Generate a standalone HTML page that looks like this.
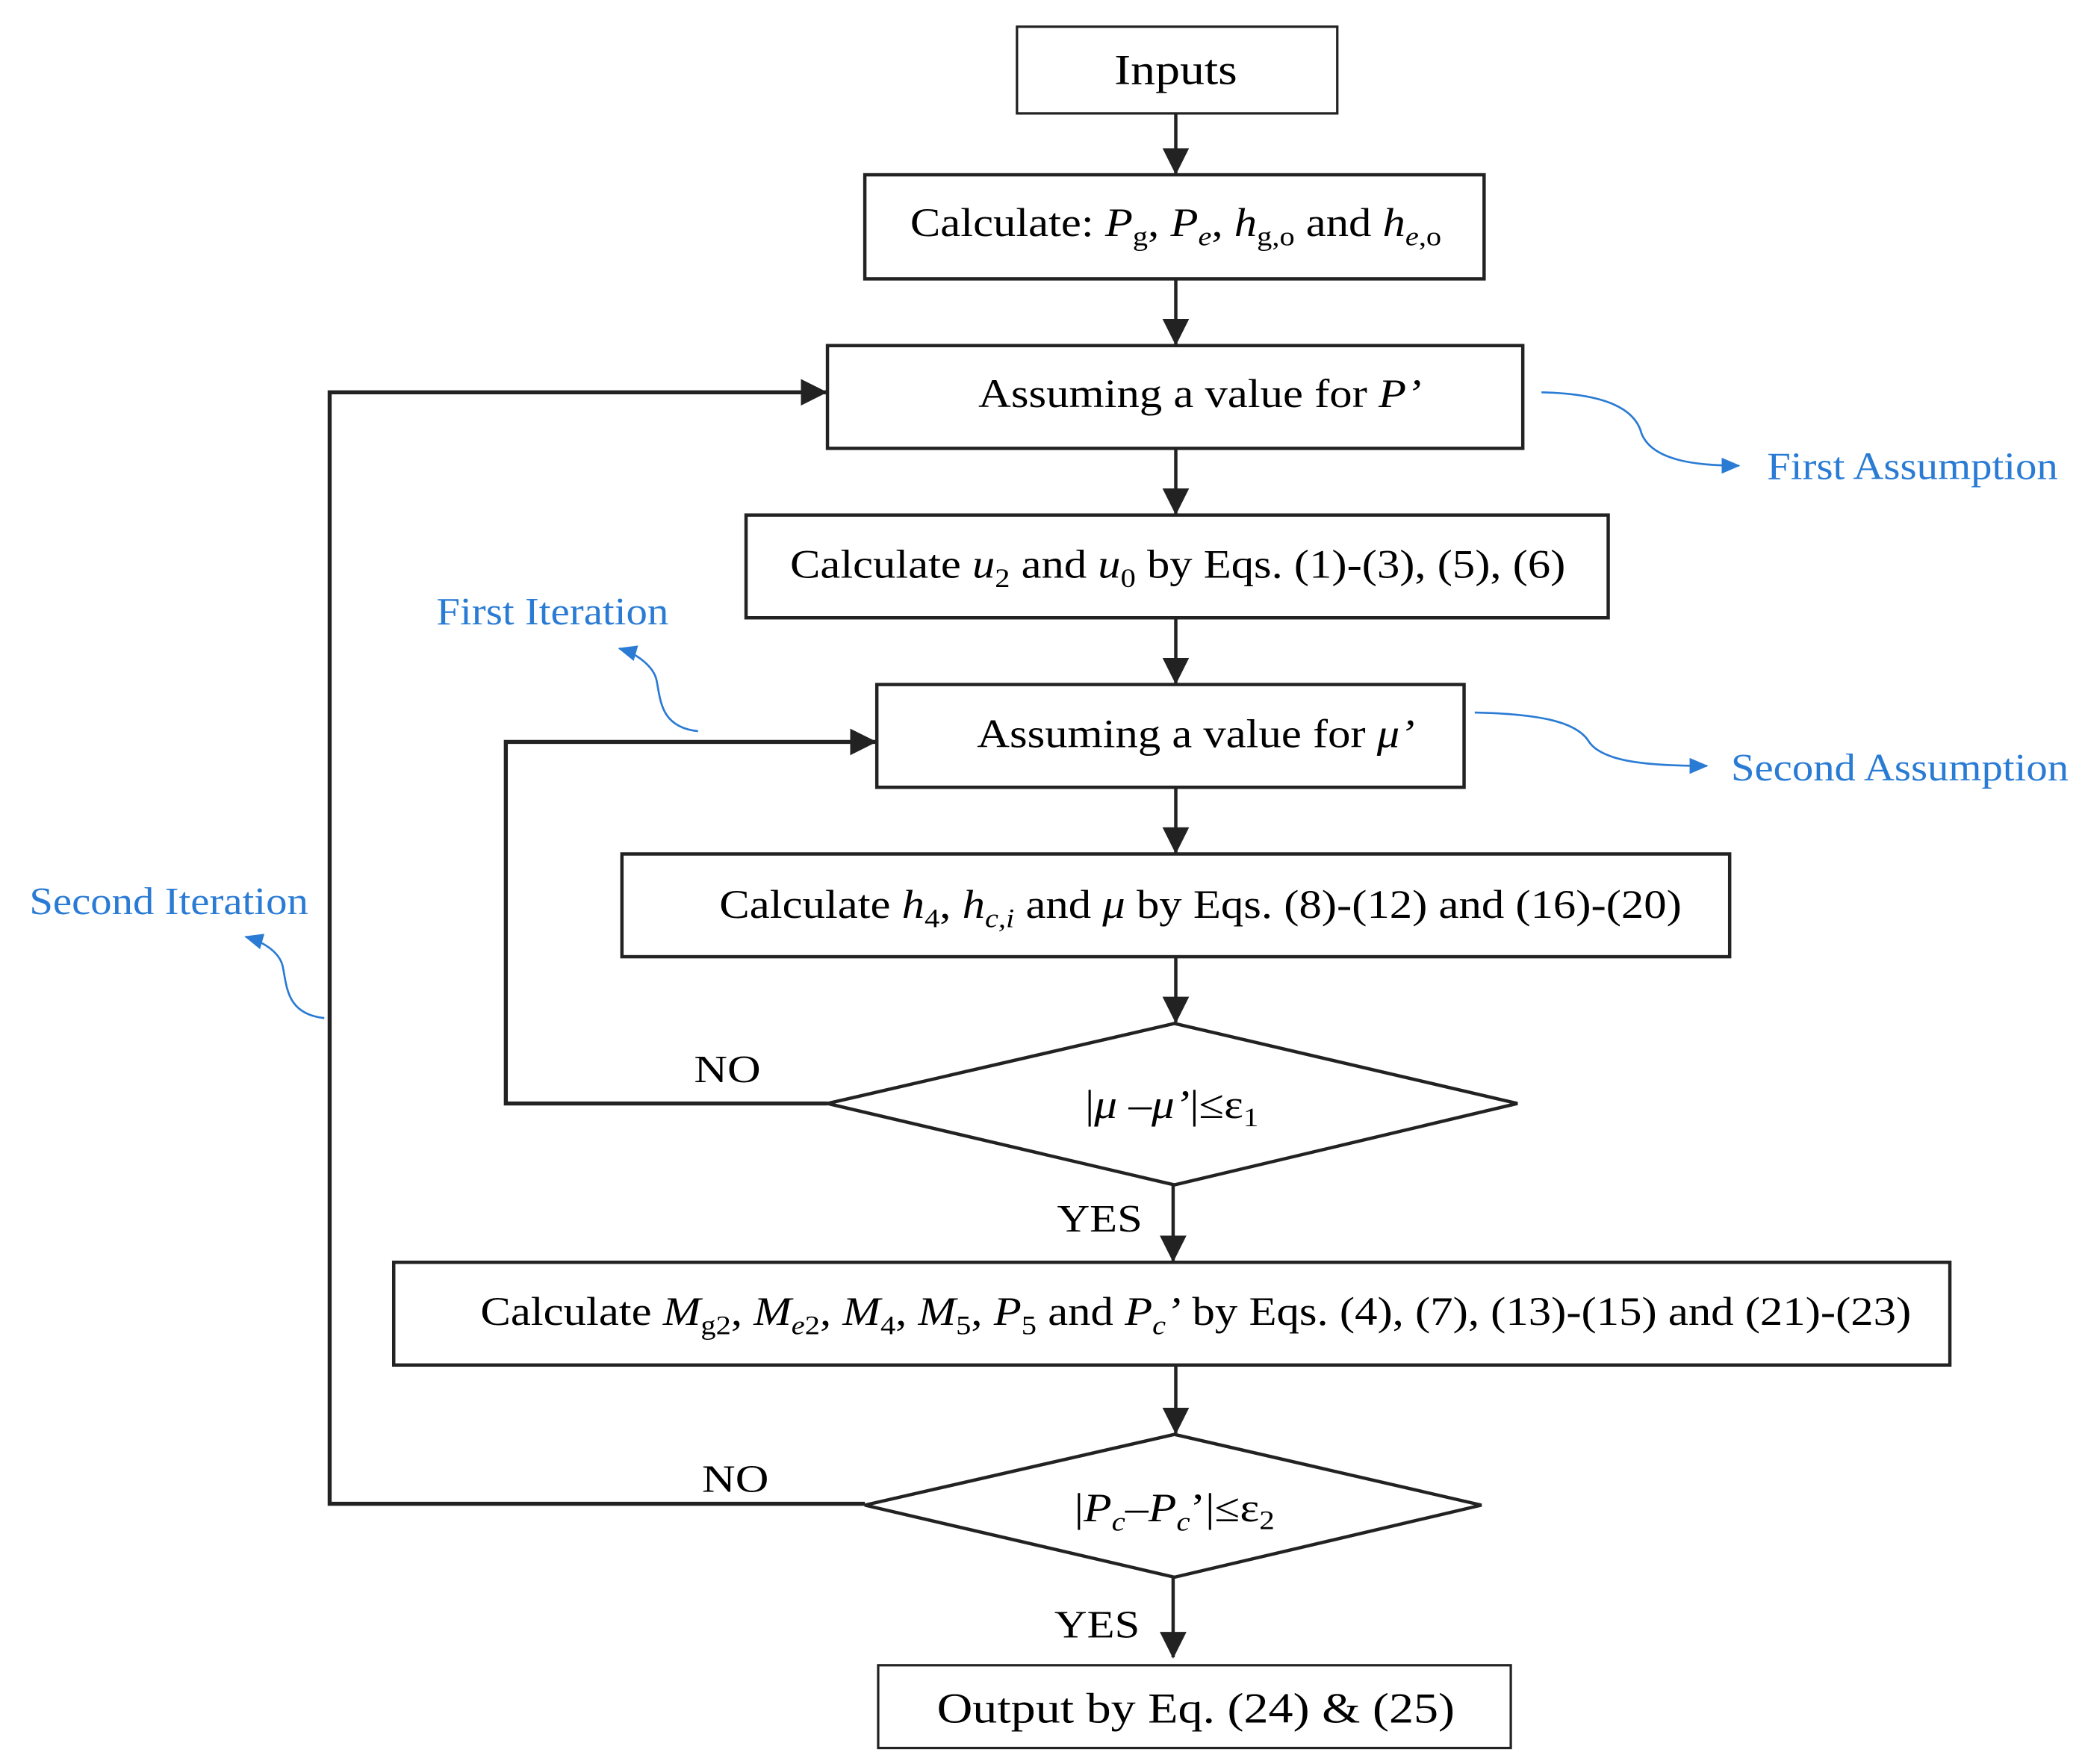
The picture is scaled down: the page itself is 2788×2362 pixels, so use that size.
<!DOCTYPE html>
<html><head><meta charset="utf-8"><style>
html,body{margin:0;padding:0;background:#fff;}
svg{display:block;}
text{font-family:"Liberation Serif",serif;fill:#000;}
.b{fill:#2a7bd4;}
</style></head><body>
<svg width="2788" height="2362" viewBox="0 0 1560 1322" preserveAspectRatio="none" xmlns="http://www.w3.org/2000/svg">
<defs>
<marker id="ab" markerWidth="20" markerHeight="20" refX="19" refY="10" orient="auto" markerUnits="userSpaceOnUse"><path d="M0,0 L20,10 L0,20 z" fill="#222"/></marker>
<marker id="bl" markerWidth="14" markerHeight="14" refX="13" refY="7" orient="auto" markerUnits="userSpaceOnUse"><path d="M0,1 L14,7 L0,13 z" fill="#2a7bd4"/></marker>
</defs>
<g fill="none" stroke="#222" stroke-width="2.5">
<rect x="762" y="20" width="240" height="65" stroke-width="1.8"/>
<rect x="648" y="131" width="464" height="78"/>
<rect x="620" y="259" width="521" height="77"/>
<rect x="559" y="386" width="646" height="77"/>
<rect x="657" y="513" width="440" height="77"/>
<rect x="466" y="640" width="830" height="77"/>
<polygon points="880,767 1137,827 880,888 620,827"/>
<rect x="295" y="946" width="1166" height="77"/>
<polygon points="880,1075 1110,1128 880,1182 648,1128"/>
<rect x="658" y="1248" width="474" height="62" stroke-width="1.8"/>
</g>
<g stroke="#222" stroke-width="2.5" fill="none">
<line x1="881" y1="85" x2="881" y2="130" marker-end="url(#ab)"/>
<line x1="881" y1="209" x2="881" y2="258" marker-end="url(#ab)"/>
<line x1="881" y1="336" x2="881" y2="385" marker-end="url(#ab)"/>
<line x1="881" y1="463" x2="881" y2="512" marker-end="url(#ab)"/>
<line x1="881" y1="590" x2="881" y2="639" marker-end="url(#ab)"/>
<line x1="881" y1="717" x2="881" y2="766" marker-end="url(#ab)"/>
<line x1="879" y1="888" x2="879" y2="945" marker-end="url(#ab)"/>
<line x1="881" y1="1023" x2="881" y2="1074" marker-end="url(#ab)"/>
<line x1="879" y1="1182" x2="879" y2="1242" marker-end="url(#ab)"/>
<polyline points="620,827 379,827 379,556 656,556" stroke-width="3" marker-end="url(#ab)"/>
<polyline points="648,1127 247,1127 247,294 619,294" stroke-width="3" marker-end="url(#ab)"/>
</g>
<g stroke="#2a7bd4" stroke-width="1.5" fill="none">
<path d="M1155,294 C1200,295 1225,305 1230,325 C1238,345 1270,349 1303,349" marker-end="url(#bl)"/>
<path d="M1105,534 C1150,535 1180,540 1190,555 C1200,572 1240,574 1279,574" marker-end="url(#bl)"/>
<path d="M523,548 C495,545 495,525 492,510 C490,500 478,490 464,486" marker-end="url(#bl)"/>
<path d="M243,763 C215,760 215,740 212,725 C210,714 198,706 184,702" marker-end="url(#bl)"/>
</g>
<text x="835" y="63" font-size="32" textLength="92" lengthAdjust="spacingAndGlyphs">Inputs</text>
<text x="682" y="177" font-size="30" textLength="398" lengthAdjust="spacingAndGlyphs">Calculate: <tspan font-style="italic">P</tspan><tspan font-size="20" dy="7">g</tspan><tspan dy="-7">, </tspan><tspan font-style="italic">P</tspan><tspan font-size="20" dy="7" font-style="italic">e</tspan><tspan dy="-7">, </tspan><tspan font-style="italic">h</tspan><tspan font-size="20" dy="7">g,o</tspan><tspan dy="-7"> and </tspan><tspan font-style="italic">h</tspan><tspan font-size="20" dy="7"><tspan font-style="italic">e</tspan>,o</tspan></text>
<text x="733" y="305" font-size="30" textLength="332" lengthAdjust="spacingAndGlyphs">Assuming a value for <tspan font-style="italic">P’</tspan></text>
<text x="592" y="433" font-size="30" textLength="581" lengthAdjust="spacingAndGlyphs">Calculate <tspan font-style="italic">u</tspan><tspan font-size="20" dy="7">2</tspan><tspan dy="-7"> and </tspan><tspan font-style="italic">u</tspan><tspan font-size="20" dy="7">0</tspan><tspan dy="-7"> by Eqs. (1)-(3), (5), (6)</tspan></text>
<text x="732" y="560" font-size="30" textLength="328" lengthAdjust="spacingAndGlyphs">Assuming a value for <tspan font-style="italic">μ’</tspan></text>
<text x="539" y="688" font-size="30" textLength="721" lengthAdjust="spacingAndGlyphs">Calculate <tspan font-style="italic">h</tspan><tspan font-size="20" dy="7">4</tspan><tspan dy="-7">, </tspan><tspan font-style="italic">h</tspan><tspan font-size="20" dy="7" font-style="italic">c,i</tspan><tspan dy="-7"> and </tspan><tspan font-style="italic">μ</tspan> by Eqs. (8)-(12) and (16)-(20)</text>
<text x="813" y="838" font-size="30" textLength="130" lengthAdjust="spacingAndGlyphs">|<tspan font-style="italic">μ</tspan> –<tspan font-style="italic">μ’</tspan>|≤ε<tspan font-size="20" dy="6">1</tspan></text>
<text x="360" y="993" font-size="30" textLength="1072" lengthAdjust="spacingAndGlyphs">Calculate <tspan font-style="italic">M</tspan><tspan font-size="20" dy="7">g2</tspan><tspan dy="-7">, </tspan><tspan font-style="italic">M</tspan><tspan font-size="20" dy="7" font-style="italic">e</tspan><tspan font-size="20">2</tspan><tspan dy="-7">, </tspan><tspan font-style="italic">M</tspan><tspan font-size="20" dy="7">4</tspan><tspan dy="-7">, </tspan><tspan font-style="italic">M</tspan><tspan font-size="20" dy="7">5</tspan><tspan dy="-7">, </tspan><tspan font-style="italic">P</tspan><tspan font-size="20" dy="7">5</tspan><tspan dy="-7"> and </tspan><tspan font-style="italic">P</tspan><tspan font-size="20" dy="7" font-style="italic">c</tspan><tspan dy="-7" font-style="italic">’</tspan> by Eqs. (4), (7), (13)-(15) and (21)-(23)</text>
<text x="805" y="1140" font-size="30" textLength="150" lengthAdjust="spacingAndGlyphs">|<tspan font-style="italic">P</tspan><tspan font-size="20" dy="7" font-style="italic">c</tspan><tspan dy="-7">–</tspan><tspan font-style="italic">P</tspan><tspan font-size="20" dy="7" font-style="italic">c</tspan><tspan dy="-7">’|≤ε</tspan><tspan font-size="20" dy="6">2</tspan></text>
<text x="702" y="1291" font-size="32" textLength="388" lengthAdjust="spacingAndGlyphs">Output by Eq. (24) &amp; (25)</text>
<text x="520" y="811" font-size="29" textLength="50" lengthAdjust="spacingAndGlyphs">NO</text>
<text x="526" y="1118" font-size="29" textLength="50" lengthAdjust="spacingAndGlyphs">NO</text>
<text x="792" y="923" font-size="29" textLength="64" lengthAdjust="spacingAndGlyphs">YES</text>
<text x="790" y="1227" font-size="29" textLength="64" lengthAdjust="spacingAndGlyphs">YES</text>
<text class="b" x="1324" y="359" font-size="29" textLength="218" lengthAdjust="spacingAndGlyphs">First Assumption</text>
<text class="b" x="1297" y="585" font-size="29" textLength="253" lengthAdjust="spacingAndGlyphs">Second Assumption</text>
<text class="b" x="327" y="468" font-size="29" textLength="174" lengthAdjust="spacingAndGlyphs">First Iteration</text>
<text class="b" x="22" y="685" font-size="29" textLength="209" lengthAdjust="spacingAndGlyphs">Second Iteration</text>
</svg>
</body></html>
